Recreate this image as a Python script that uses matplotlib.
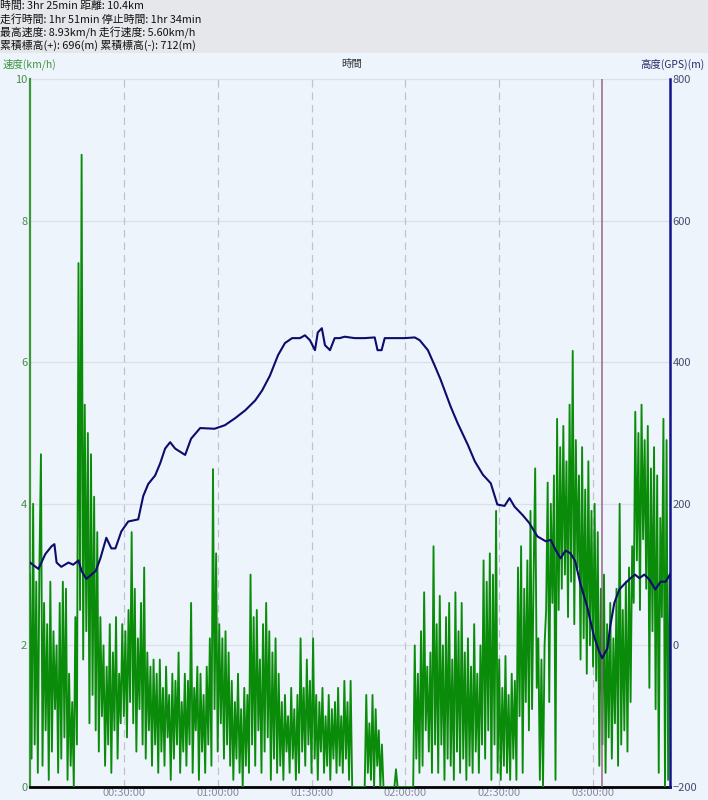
import matplotlib
matplotlib.use("Agg")
import matplotlib.pyplot as plt
import numpy as np

plt.rcParams['font.family'] = ['Noto Sans CJK JP', 'DejaVu Sans']

# summary header
header_lines = [
    "時間: 3hr 25min 距離: 10.4km",
    "走行時間: 1hr 51min 停止時間: 1hr 34min",
    "最高速度: 8.93km/h 走行速度: 5.60km/h",
    "累積標高(+): 696(m) 累積標高(-): 712(m)",
]

# speed (km/h), one sample every 0.5 min
speed_step_min = 0.5
speed = [
    3.0, 0.4, 4.0, 0.6, 2.9, 0.2, 3.1, 4.7, 0.3, 2.6, 0.8, 2.3, 0.1, 2.9, 0.5, 2.2, 1.1, 2.0, 0.2, 2.6,
    0.4, 2.9, 0.7, 2.8, 0.1, 1.6, 0.3, 1.2, 0.0, 2.4, 0.6, 7.4, 2.5, 8.93, 1.8, 5.4, 2.2, 5.0, 0.9, 4.7,
    1.3, 4.1, 0.8, 3.6, 0.5, 2.4, 1.0, 2.0, 0.3, 1.7, 0.6, 2.3, 0.2, 1.9, 0.8, 2.4, 0.4, 1.6, 0.9, 2.3,
    1.0, 2.2, 0.7, 2.5, 1.2, 3.6, 0.9, 2.8, 0.5, 2.1, 1.1, 2.6, 0.6, 3.1, 0.4, 1.9, 0.8, 1.7, 0.3, 1.8,
    0.6, 1.6, 0.2, 1.8, 0.5, 1.4, 0.3, 1.7, 0.7, 1.3, 0.1, 1.6, 0.4, 1.5, 0.6, 1.9, 0.2, 1.2, 0.5, 1.6,
    0.3, 1.5, 0.6, 2.6, 0.2, 1.4, 0.8, 1.7, 0.1, 1.6, 0.5, 1.3, 0.2, 1.7, 0.6, 2.1, 0.3, 4.49, 1.1, 3.3,
    0.5, 2.3, 0.9, 2.1, 0.4, 2.2, 0.6, 1.9, 0.3, 1.5, 0.1, 1.2, 0.4, 1.6, 0.2, 1.1, 0.0, 1.4, 0.3, 1.3,
    0.2, 3.0, 0.6, 2.4, 0.3, 2.5, 0.8, 1.8, 0.2, 2.3, 0.5, 2.6, 0.7, 2.2, 0.1, 1.9, 0.4, 2.1, 0.2, 1.6,
    0.3, 1.2, 0.1, 1.3, 0.5, 1.0, 0.2, 1.4, 0.4, 1.1, 0.1, 1.3, 0.2, 2.1, 0.5, 1.4, 0.3, 1.8, 0.6, 1.5,
    0.2, 2.1, 0.4, 1.3, 0.1, 1.2, 0.5, 1.4, 0.2, 1.0, 0.3, 1.3, 0.1, 1.1, 0.4, 1.2, 0.2, 1.4, 0.3, 1.0,
    0.2, 1.5, 0.4, 1.2, 0.1, 1.5, 0.0, 0.0, 0.0, 0.0, 0.0, 0.0, 0.0, 0.0, 0.0, 1.3, 0.2, 0.9, 0.1, 1.3,
    0.0, 1.1, 0.3, 0.8, 0.0, 0.6, 0.0, 0.0, 0.0, 0.0, 0.0, 0.0, 0.0, 0.0, 0.25, 0.0, 0.0, 0.0, 0.0, 0.0,
    0.0, 0.0, 0.0, 0.0, 0.0, 0.0, 2.0, 0.4, 1.6, 0.2, 2.2, 0.3, 2.75, 0.8, 1.7, 0.5, 1.9, 0.2, 3.4, 0.6,
    2.3, 0.2, 2.7, 0.6, 2.0, 0.1, 2.4, 0.4, 2.6, 0.3, 1.8, 0.1, 2.75, 0.5, 2.2, 0.2, 2.6, 0.4, 1.9, 0.1,
    2.1, 0.3, 1.7, 0.2, 2.3, 0.5, 1.6, 0.2, 2.0, 0.6, 3.2, 0.4, 2.9, 0.8, 3.3, 0.1, 3.0, 0.6, 3.9, 0.2,
    1.8, 0.1, 1.4, 0.3, 1.85, 0.2, 1.3, 0.1, 1.6, 0.4, 1.5, 0.1, 3.1, 1.0, 3.4, 0.2, 2.8, 1.2, 3.2, 0.8,
    3.9, 1.1, 3.0, 4.5, 1.4, 2.1, 0.1, 1.8, 0.0, 2.0, 2.5, 4.3, 1.2, 4.0, 2.6, 4.4, 0.1, 5.2, 2.5, 4.8,
    2.8, 5.1, 3.0, 4.6, 2.4, 5.4, 2.9, 6.16, 2.3, 4.9, 3.1, 4.4, 1.8, 4.8, 2.1, 4.2, 1.6, 4.6, 2.0, 3.9,
    1.7, 4.0, 1.5, 3.6, 0.3, 2.8, 0.6, 3.0, 0.2, 2.3, 0.7, 2.6, 0.4, 2.1, 0.9, 2.8, 0.3, 4.0, 0.6, 2.5,
    0.8, 2.9, 0.5, 3.1, 1.2, 3.4, 2.6, 5.3, 3.2, 5.0, 2.5, 5.4, 3.5, 4.9, 2.8, 5.1, 1.4, 4.5, 2.2, 4.8,
    1.1, 4.4, 0.2, 3.8, 2.4, 5.2, 0.0, 4.9, 0.1, 3.0,
]

# GPS altitude (m) at elapsed minutes
alt_time = [
    0, 2.7, 4.9, 6.9, 7.8, 8.5, 10, 12.3, 13.8, 15.5, 16.5, 18, 21, 22.5, 24.4, 26, 27.3,
    29.2, 31.4, 34.6, 36.2, 37.8, 40, 41.6, 43.2, 44.8, 46.4, 49.6, 51.5, 54.4, 59, 62.3,
    65.6, 68.8, 72, 74.2, 76.7, 79.3, 81.5, 83.8, 86.3, 87.9, 89.5, 91.1, 92, 93.3, 94.3,
    95.9, 97.4, 99, 100.6, 103.8, 107, 110.2, 111.1, 112.4, 113.4, 116.6, 119.8, 123,
    124.6, 127.2, 129.4, 131.3, 134.5, 136.7, 140, 142.2, 144.8, 147.3, 149.4, 151.7,
    153.3, 154.9, 157.5, 159.6, 162.2, 164.9, 166.5, 168, 169.6, 171.2, 172.8, 174.3,
    175.9, 178.1, 180.3, 181.9, 182.9, 184.6, 185.5, 186.8, 188.4, 190.3, 192, 193.4,
    194.8, 196.4, 198, 199.9, 201.6, 203.2, 204.6,
]
altitude = [
    117, 108, 129, 140, 143, 117, 111, 117, 114, 120, 105, 94, 105, 123, 152, 137, 137,
    161, 175, 178, 211, 228, 240, 257, 278, 287, 278, 269, 292, 307, 306, 311,
    321, 332, 346, 360, 381, 410, 427, 434, 434, 438, 431, 417, 442, 448, 424,
    417, 434, 434, 436, 434, 434, 435, 417, 417, 434, 434, 434, 435,
    431, 417, 395, 375, 337, 314, 283, 260, 241, 229, 199, 197,
    208, 196, 184, 173, 154, 147, 149, 135, 123, 134, 130, 119,
    88, 55, 13, -8, -18, -4, 27, 60, 79, 88, 95, 100,
    95, 100, 93, 79, 90, 90, 100,
]

cursor_min = 183.0
total_min = 204.6
time_ticks = [30, 60, 90, 120, 150, 180]
time_labels = ["00:30:00", "01:00:00", "01:30:00", "02:00:00", "02:30:00", "03:00:00"]

bg = '#eef4fc'
green = '#0a8c0a'
navy = '#0c0c6c'

fig = plt.figure(figsize=(7.08, 8.0), dpi=100)
fig.patch.set_facecolor(bg)

# grey header band
fig.add_artist(plt.Rectangle((0, 1 - 53 / 800), 1, 53 / 800, transform=fig.transFigure,
                             facecolor='#e6e7eb', edgecolor='none', zorder=0))
for i, line in enumerate(header_lines):
    fig.text(0.0, 1 - (6 + 13.3 * i) / 800, line, fontsize=7.8, color='#111111',
             va='center', ha='left')

ax = fig.add_axes([30 / 708, 1 - 787 / 800, 640 / 708, 708 / 800])
ax.set_facecolor(bg)
ax2 = ax.twinx()

t_speed = np.arange(len(speed)) * speed_step_min
ax.plot(t_speed, speed, color=green, linewidth=1.35, zorder=3)
ax.axvline(cursor_min, color='#9a6585', linewidth=1.1, zorder=4)

ax2.plot(alt_time, altitude, color=navy, linewidth=1.5, zorder=5)

ax.set_xlim(0, total_min)
ax.set_ylim(0, 10)
ax2.set_ylim(-200, 800)

ax.set_yticks([0, 2, 4, 6, 8, 10])
ax2.set_yticks([-200, 0, 200, 400, 600, 800])
ax.set_xticks(time_ticks)
ax.set_xticklabels(time_labels)

for y in [2, 4, 6, 8, 10]:
    ax.axhline(y, color='#dcdee8', linewidth=0.9, zorder=1)
for x in time_ticks:
    ax.axvline(x, color='#c2c2cf', linewidth=0.9, dashes=(6, 4), zorder=1)

ax.tick_params(axis='y', length=0, pad=2, labelsize=8, labelcolor='#4d8a4d')
ax2.tick_params(axis='y', length=0, pad=2, labelsize=8, labelcolor='#4a4a70')
ax.tick_params(axis='x', length=0, pad=1, labelsize=8, labelcolor='#8a8aa0')

for a in (ax, ax2):
    a.spines['top'].set_visible(False)
ax.spines['left'].set_color('#3c963c')
ax.spines['left'].set_linewidth(1.6)
ax2.spines['left'].set_visible(False)
ax.spines['right'].set_visible(False)
ax2.spines['right'].set_color('#14148a')
ax2.spines['right'].set_linewidth(1.8)
ax.spines['bottom'].set_color('black')
ax.spines['bottom'].set_linewidth(2.0)
ax2.spines['bottom'].set_visible(False)

fig.text(3 / 708, 1 - 64 / 800, "速度(km/h)", fontsize=7.5, color='#3c963c', va='center', ha='left')
fig.text(352 / 708, 1 - 64 / 800, "時間", fontsize=7.5, color='#333333', va='center', ha='center')
fig.text(705 / 708, 1 - 64 / 800, "高度(GPS)(m)", fontsize=7.5, color='#2a2a66', va='center', ha='right')

fig.savefig("out.png", dpi=100, facecolor=fig.get_facecolor())
